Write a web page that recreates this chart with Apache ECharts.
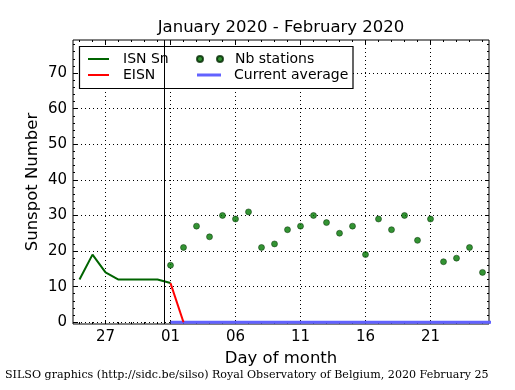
<!DOCTYPE html>
<html><head><meta charset="utf-8">
<script src="https://cdn.jsdelivr.net/npm/echarts@6/dist/echarts.min.js"></script>
<style>html,body{margin:0;padding:0;background:#fff}#c{width:515px;height:390px}</style>
</head><body><div id="c"></div>
<script>
const chartTitle = 'January 2020 - February 2020';
const footerText = 'SILSO graphics (http://sidc.be/silso) Royal Observatory of Belgium, 2020 February 25';
const isnDates = ['2020-01-25','2020-01-26','2020-01-27','2020-01-28','2020-01-29','2020-01-30','2020-01-31','2020-02-01'];
const isnValues = [12,19,14,12,12,12,12,11];
const eisnDates = ['2020-02-01','2020-02-02'];
const eisnValues = [11,0];
const stationDates = ['2020-02-01','2020-02-02','2020-02-03','2020-02-04','2020-02-05','2020-02-06','2020-02-07','2020-02-08','2020-02-09','2020-02-10','2020-02-11','2020-02-12','2020-02-13','2020-02-14','2020-02-15','2020-02-16','2020-02-17','2020-02-18','2020-02-19','2020-02-20','2020-02-21','2020-02-22','2020-02-23','2020-02-24','2020-02-25'];
const stationValues = [16,21,27,24,30,29,31,21,22,26,27,30,28,25,27,19,29,26,30,23,29,17,18,21,14];
const avgDates = ['2020-02-01','2020-02-29'];
const avgValues = [0,0];
const tickDates = ['2020-01-27','2020-02-01','2020-02-06','2020-02-11','2020-02-16','2020-02-21'];
const tickLabels = ['27','01','06','11','16','21'];
const yTickValues = [0,10,20,30,40,50,60,70];
const firstDay = '2020-01-25', lastDay = '2020-02-25', monthStart = '2020-02-01';

const REF = Date.parse(monthStart);
const day = s => Math.round((Date.parse(s) - REF) / 864e5);
const pairs = (ds, vs) => ds.map((d, i) => [day(d), vs[i]]);

const xMin = day(firstDay) - 0.5, xMax = day(lastDay) + 0.5;
const yMin = -0.5, yMax = 79.3;
const xMajor = tickDates.map(day);
const xMinor = []; for (let d = Math.ceil(xMin); d <= xMax; d++) xMinor.push(d);
const yMinor = []; for (let v = 0; v <= yMax; v += 2) yMinor.push(v);

const FONT = 'DejaVu Sans';
function xAx(pos, values, len, label, split, name) {
  return {
    type: 'value', position: pos, min: xMin, max: xMax,
    name: name || '', nameLocation: 'middle', nameGap: 26, nameMoveOverlap: false,
    nameTextStyle: {color: '#000', fontSize: 16.5, fontFamily: FONT},
    axisLine: {show: false, onZero: false},
    axisTick: {show: true, inside: true, length: len, customValues: values, lineStyle: {color: '#000', width: 1}},
    axisLabel: {show: label, customValues: values, margin: 6, color: '#000', fontSize: 15, fontFamily: FONT,
      formatter: v => tickLabels[xMajor.indexOf(v)] || ''},
    splitLine: {show: split, lineStyle: {color: '#000', width: 1, type: [1, 3]}}
  };
}
function yAx(pos, values, len, label, split, name) {
  return {
    type: 'value', position: pos, min: yMin, max: yMax,
    name: name || '', nameLocation: 'middle', nameGap: 32, nameMoveOverlap: false,
    nameTextStyle: {color: '#000', fontSize: 16.5, fontFamily: FONT},
    axisLine: {show: false, onZero: false},
    axisTick: {show: true, inside: true, length: len, customValues: values, lineStyle: {color: '#000', width: 1}},
    axisLabel: {show: label, customValues: values, margin: 6, color: '#000', fontSize: 15, fontFamily: FONT},
    splitLine: {show: split, lineStyle: {color: '#000', width: 1, type: [1, 3]}}
  };
}

const chart = echarts.init(document.getElementById('c'), null, {renderer: 'canvas'});
const legText = {color: '#000', fontSize: 14, lineHeight: 16, fontFamily: FONT};
chart.setOption({
  animation: false,
  backgroundColor: '#fff',
  title: [
    {text: chartTitle, left: 281, textAlign: 'center', top: 19, padding: 0,
     textStyle: {color: '#000', fontSize: 16.5, fontWeight: 'normal', fontFamily: FONT}},
    {text: footerText, left: 5, top: 370, padding: 0,
     textStyle: {color: '#000', fontSize: 11.1, fontWeight: 'normal', fontFamily: 'DejaVu Serif'}}
  ],
  grid: {left: 73, right: 26, top: 40, bottom: 66, show: true, borderColor: '#000', borderWidth: 1, backgroundColor: 'transparent'},
  xAxis: [
    xAx('bottom', xMajor, 4, true, true, 'Day of month'),
    xAx('bottom', xMinor, 2, false, false),
    xAx('top', xMajor, 4, false, false),
    xAx('top', xMinor, 2, false, false)
  ],
  yAxis: [
    yAx('left', yTickValues, 4, true, true, 'Sunspot Number'),
    yAx('left', yMinor, 2, false, false),
    yAx('right', yTickValues, 4, false, false),
    yAx('right', yMinor, 2, false, false)
  ],
  legend: [
    {data: ['ISN Sn', 'EISN'], orient: 'vertical', left: 88, top: 51, icon: 'rect', itemWidth: 21, itemHeight: 2,
     itemGap: 0, padding: 0, selectedMode: false, itemStyle: {borderWidth: 0},
     textStyle: Object.assign({padding: [0, 0, 0, 9]}, legText)},
    {data: ['Nb stations'], orient: 'vertical', left: 196, top: 51, itemGap: 0, padding: 0, selectedMode: false,
     icon: 'path://M0,3a3,3 0 1,0 6,0a3,3 0 1,0 -6,0zM20,3a3,3 0 1,0 6,0a3,3 0 1,0 -6,0z', itemWidth: 26, itemHeight: 6,
     textStyle: Object.assign({padding: [0, 0, 0, 7]}, legText)},
    {data: ['Current average'], orient: 'vertical', left: 197, top: 67, icon: 'rect', itemWidth: 24, itemHeight: 3,
     itemGap: 0, padding: 0, selectedMode: false, itemStyle: {borderWidth: 0},
     textStyle: Object.assign({padding: [0, 0, 0, 8]}, legText)}
  ],
  graphic: [{type: 'rect', z: 3, shape: {x: 79.5, y: 46.5, width: 273.5, height: 42},
    style: {fill: '#fff', stroke: '#000', lineWidth: 1.2}}],
  series: [
    {name: 'ISN Sn', type: 'line', data: pairs(isnDates, isnValues), color: '#006400', symbol: 'none',
     lineStyle: {width: 2, color: '#006400'}, z: 3,
     markLine: {silent: true, symbol: 'none', label: {show: false},
       lineStyle: {color: '#000', width: 1, type: 'solid'}, data: [{xAxis: day(monthStart) - 0.5}]}},
    {name: 'EISN', type: 'line', data: pairs(eisnDates, eisnValues), color: '#ff0000', symbol: 'none',
     lineStyle: {width: 2, color: '#ff0000'}, z: 3},
    {name: 'Nb stations', type: 'scatter', data: pairs(stationDates, stationValues), symbolSize: 6,
     itemStyle: {color: '#007800', borderColor: '#002800', borderWidth: 0.6}, z: 3},
    {name: 'Current average', type: 'line', data: pairs(avgDates, avgValues), color: '#6262ff', symbol: 'none',
     lineStyle: {width: 3, color: '#6262ff'}, z: 2}
  ]
});
</script></body></html>
